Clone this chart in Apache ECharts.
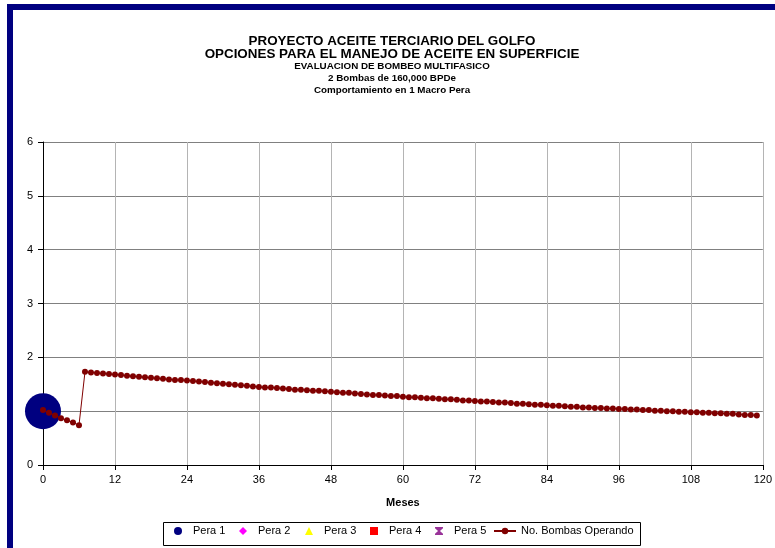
<!DOCTYPE html>
<html>
<head>
<meta charset="utf-8">
<script src="https://cdn.jsdelivr.net/npm/echarts@6/dist/echarts.min.js"></script>
<style>
html,body{margin:0;padding:0;background:#fff;}
#chart{width:775px;height:548px;}
</style>
</head>
<body>
<div id="chart"></div>
<script>
// ---- Data ----
const titleLines = [
  'PROYECTO ACEITE TERCIARIO DEL GOLFO',
  'OPCIONES PARA EL MANEJO DE ACEITE EN SUPERFICIE',
  'EVALUACION DE BOMBEO MULTIFASICO',
  '2 Bombas de 160,000 BPDe',
  'Comportamiento en 1 Macro Pera'
];
const xAxisTitle = 'Meses';
const xTicks = [0, 12, 24, 36, 48, 60, 72, 84, 96, 108, 120];
const yTicks = [0, 1, 2, 3, 4, 5, 6];
const seriesNames = ['Pera 1', 'Pera 2', 'Pera 3', 'Pera 4', 'Pera 5', 'No. Bombas Operando'];

const pera1Months = [0];
const pera1Values = [1];

const bombasMonths = [
  0, 1, 2, 3, 4, 5, 6,
  7, 8, 9, 10, 11, 12, 13, 14, 15, 16, 17, 18, 19, 20, 21, 22, 23, 24,
  25, 26, 27, 28, 29, 30, 31, 32, 33, 34, 35, 36,
  37, 38, 39, 40, 41, 42, 43, 44, 45, 46, 47, 48,
  49, 50, 51, 52, 53, 54, 55, 56, 57, 58, 59, 60,
  61, 62, 63, 64, 65, 66, 67, 68, 69, 70, 71, 72,
  73, 74, 75, 76, 77, 78, 79, 80, 81, 82, 83, 84,
  85, 86, 87, 88, 89, 90, 91, 92, 93, 94, 95, 96,
  97, 98, 99, 100, 101, 102, 103, 104, 105, 106, 107, 108,
  109, 110, 111, 112, 113, 114, 115, 116, 117, 118, 119
];
const bombasValues = [
  1.02, 0.97, 0.92, 0.87, 0.83, 0.79, 0.74,
  1.73, 1.72, 1.71, 1.70, 1.69, 1.68, 1.67, 1.66, 1.65, 1.64, 1.63, 1.62, 1.61, 1.60, 1.59, 1.58, 1.58, 1.57,
  1.56, 1.55, 1.54, 1.53, 1.52, 1.51, 1.50, 1.49, 1.48, 1.47, 1.46, 1.45,
  1.44, 1.44, 1.43, 1.42, 1.41, 1.40, 1.40, 1.39, 1.38, 1.38, 1.37, 1.36,
  1.35, 1.34, 1.34, 1.33, 1.32, 1.31, 1.30, 1.30, 1.29, 1.28, 1.28, 1.27,
  1.26, 1.26, 1.25, 1.24, 1.24, 1.23, 1.22, 1.22, 1.21, 1.20, 1.20, 1.19,
  1.18, 1.18, 1.17, 1.16, 1.16, 1.15, 1.14, 1.14, 1.13, 1.12, 1.12, 1.11,
  1.10, 1.10, 1.09, 1.08, 1.08, 1.07, 1.07, 1.06, 1.06, 1.05, 1.05, 1.04,
  1.04, 1.03, 1.03, 1.02, 1.02, 1.01, 1.01, 1.00, 1.00, 0.99, 0.99, 0.98,
  0.98, 0.97, 0.97, 0.96, 0.96, 0.95, 0.95, 0.94, 0.93, 0.93, 0.92
];

// ---- Chart ----
const FONT = '"Liberation Sans", Arial, sans-serif';
const chart = echarts.init(document.getElementById('chart'), null, {renderer: 'canvas'});

const titleTops = [35, 48, 61, 73, 85.5];
const titleSizes = [13.4, 13.4, 9.8, 9.8, 9.8];

const ICON_CIRCLE = 'path://M5,0A5,5,0,1,1,4.99,0Z';
const ICON_DIAMOND = 'path://M5,0L10,5L5,10L0,5Z';
const ICON_TRIANGLE = 'path://M5,0L10,10L0,10Z';
const ICON_SQUARE = 'path://M0,0L10,0L10,10L0,10Z';
const ICON_X = 'path://M0,0L10,0L10,1.5L6.2,5L10,8.5L10,10L0,10L0,8.5L3.8,5L0,1.5Z';
const legendIcons = ['circle', ICON_DIAMOND, ICON_TRIANGLE, ICON_SQUARE, ICON_X, null];
const legendLefts = [174, 239, 305, 370, 435, 493];

const legends = seriesNames.map((name, i) => {
  const isLine = i === 5;
  return {
    left: legendLefts[i],
    top: 525,
    padding: 0,
    itemWidth: isLine ? 22 : 8,
    itemHeight: 8,
    symbolKeepAspect: true,
    selectedMode: false,
    textStyle: {
      fontFamily: FONT, fontSize: 11, color: '#000', lineHeight: 12,
      padding: isLine ? 0 : [0, 0, 0, 6]
    },
    data: [isLine ? {name} : {name, icon: legendIcons[i]}]
  };
});

const option = {
  backgroundColor: '#ffffff',
  animation: false,
  graphic: [
    {type: 'rect', shape: {x: 7, y: 4, width: 768, height: 6}, style: {fill: '#000080'}, silent: true},
    {type: 'rect', shape: {x: 7, y: 4, width: 6, height: 544}, style: {fill: '#000080'}, silent: true},
    {type: 'rect', shape: {x: 163.5, y: 522.5, width: 477, height: 23}, style: {fill: null, stroke: '#000', lineWidth: 1}, silent: true, z: 10}
  ],
  title: titleLines.map((t, i) => ({
    text: t,
    left: 392,
    top: titleTops[i],
    textAlign: 'center',
    padding: 0,
    textStyle: {fontFamily: FONT, fontWeight: 'bold', fontSize: titleSizes[i], color: '#000', lineHeight: titleSizes[i]}
  })),
  legend: legends,
  grid: {left: 43, right: 12, top: 142, bottom: 83, containLabel: false},
  xAxis: {
    type: 'value',
    min: xTicks[0],
    max: xTicks[xTicks.length - 1],
    interval: 12,
    name: xAxisTitle,
    nameLocation: 'middle',
    nameGap: 32,
    nameTextStyle: {fontFamily: FONT, fontWeight: 'bold', fontSize: 11, color: '#000'},
    axisLine: {onZero: false, lineStyle: {color: '#000', width: 1}},
    axisTick: {show: true, length: 5, lineStyle: {color: '#000'}},
    axisLabel: {fontFamily: FONT, fontSize: 11, color: '#000', margin: 9},
    splitLine: {show: true, lineStyle: {color: '#b4b4b4', width: 1}}
  },
  yAxis: {
    type: 'value',
    min: yTicks[0],
    max: yTicks[yTicks.length - 1],
    interval: 1,
    axisLine: {show: true, lineStyle: {color: '#000', width: 1}},
    axisTick: {show: true, length: 5, lineStyle: {color: '#000'}},
    axisLabel: {fontFamily: FONT, fontSize: 11, color: '#000', margin: 10},
    splitLine: {show: true, lineStyle: {color: '#808080', width: 1}}
  },
  series: [
    {
      name: seriesNames[0], type: 'scatter', symbol: 'circle', symbolSize: 36,
      itemStyle: {color: '#000080', opacity: 1},
      data: pera1Months.map((m, i) => [m, pera1Values[i]]),
      z: 2
    },
    {name: seriesNames[1], type: 'scatter', symbol: 'diamond', itemStyle: {color: '#ff00ff', opacity: 1}, data: []},
    {name: seriesNames[2], type: 'scatter', symbol: 'triangle', itemStyle: {color: '#ffff00', opacity: 1}, data: []},
    {name: seriesNames[3], type: 'scatter', symbol: 'rect', itemStyle: {color: '#ff0000', opacity: 1}, data: []},
    {name: seriesNames[4], type: 'scatter', symbol: ICON_X, itemStyle: {color: '#993399', opacity: 1}, data: []},
    {
      name: seriesNames[5], type: 'line', symbol: 'circle', symbolSize: 6,
      showAllSymbol: true,
      itemStyle: {color: '#800000'},
      lineStyle: {color: '#800000', width: 1},
      data: bombasMonths.map((m, i) => [m, bombasValues[i]]),
      z: 3
    }
  ]
};
chart.setOption(option);
</script>
</body>
</html>
